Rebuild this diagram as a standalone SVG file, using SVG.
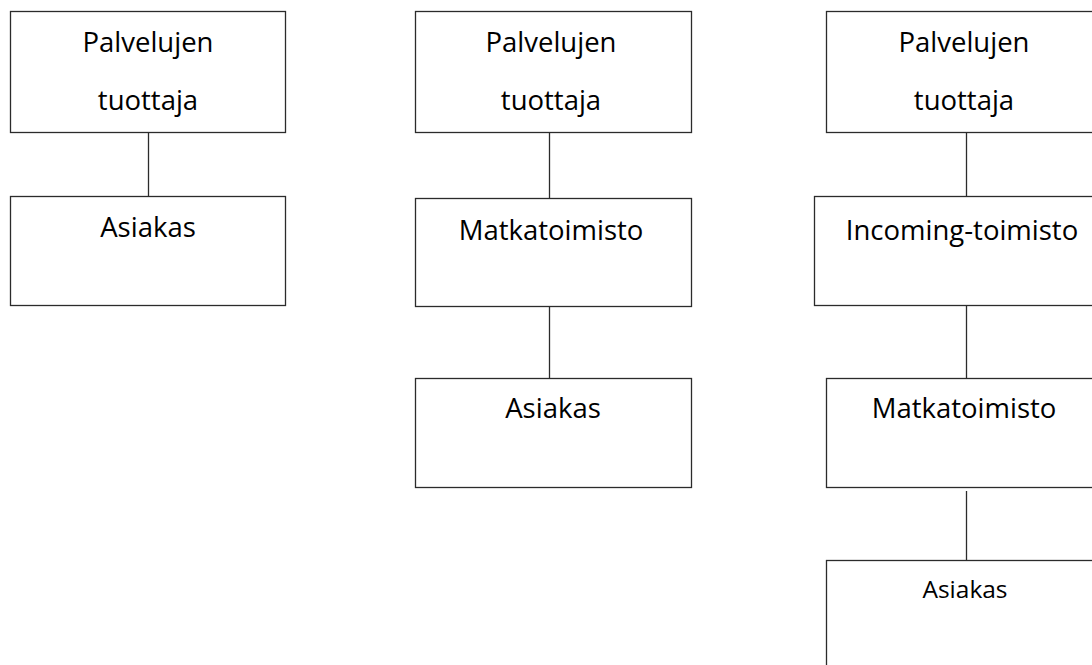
<svg xmlns="http://www.w3.org/2000/svg" width="1092" height="665" viewBox="0 0 1092 665">
  <style>
    .box { fill: #ffffff; stroke: #2b2b2b; stroke-width: 1.3; }
    .link { stroke: #2b2b2b; stroke-width: 1.3; fill: none; }
    .label { font-family: "Open Sans", "Noto Sans", sans-serif; font-size: 27.5px; fill: #000000; text-anchor: middle; }
    .small { font-size: 24.5px; }
  </style>
  <rect width="1092" height="665" fill="#ffffff"/>

  <!-- connectors -->
  <g id="connectors">
    <line class="link" x1="148.5" y1="132.5" x2="148.5" y2="196.5"/>
    <line class="link" x1="549.5" y1="132.5" x2="549.5" y2="198.5"/>
    <line class="link" x1="549.5" y1="303" x2="549.5" y2="378.5"/>
    <line class="link" x1="966.5" y1="132.5" x2="966.5" y2="196.5"/>
    <line class="link" x1="966.5" y1="305.5" x2="966.5" y2="378.5"/>
    <line class="link" x1="966.5" y1="491" x2="966.5" y2="560.5"/>
  </g>

  <!-- column 1: direct sale -->
  <g id="c1-tuottaja">
    <rect class="box" x="10.5" y="11.5" width="275" height="121"/>
    <text class="label" x="148" y="52">Palvelujen</text>
    <text class="label" x="148" y="110">tuottaja</text>
  </g>
  <g id="c1-asiakas">
    <rect class="box" x="10.5" y="196.5" width="275" height="109"/>
    <text class="label" x="148" y="237">Asiakas</text>
  </g>

  <!-- column 2: via travel agency -->
  <g id="c2-tuottaja">
    <rect class="box" x="415.5" y="11.5" width="276" height="121"/>
    <text class="label" x="551" y="52">Palvelujen</text>
    <text class="label" x="551" y="110">tuottaja</text>
  </g>
  <g id="c2-matkatoimisto">
    <rect class="box" x="415.5" y="198.5" width="276" height="108"/>
    <text class="label" x="551" y="240">Matkatoimisto</text>
  </g>
  <g id="c2-asiakas">
    <rect class="box" x="415.5" y="378.5" width="276" height="109"/>
    <text class="label" x="553" y="418">Asiakas</text>
  </g>

  <!-- column 3: via incoming agency and travel agency -->
  <g id="c3-tuottaja">
    <rect class="box" x="826.5" y="11.5" width="275" height="121"/>
    <text class="label" x="964" y="52">Palvelujen</text>
    <text class="label" x="964" y="110">tuottaja</text>
  </g>
  <g id="c3-incoming">
    <rect class="box" x="814.5" y="196.5" width="287" height="109"/>
    <text class="label" x="962" y="240">Incoming-toimisto</text>
  </g>
  <g id="c3-matkatoimisto">
    <rect class="box" x="826.5" y="378.5" width="275" height="109"/>
    <text class="label" x="964" y="418">Matkatoimisto</text>
  </g>
  <g id="c3-asiakas">
    <rect class="box" x="826.5" y="560.5" width="275" height="120"/>
    <text class="label small" x="965" y="598">Asiakas</text>
  </g>
</svg>
